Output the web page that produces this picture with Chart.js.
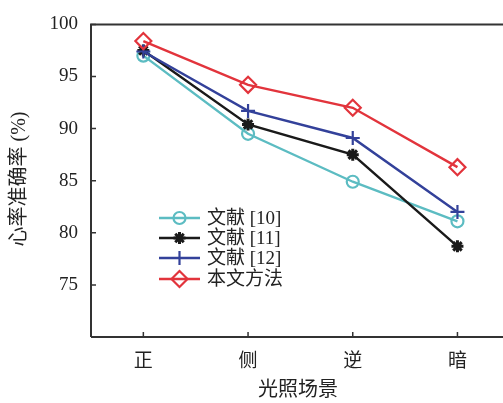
<!DOCTYPE html>
<html><head><meta charset="utf-8">
<script src="https://cdn.jsdelivr.net/npm/chart.js@4/dist/chart.umd.min.js"></script>
<style>html,body{margin:0;padding:0;overflow:hidden;background:#fff}#wrap{width:520px;height:403px}</style>
</head><body><div id="wrap"><canvas id="c" width="520" height="403"></canvas></div>
<script>
const categories = ['正', '侧', '逆', '暗'];
const ref10 = [97.0, 89.5, 84.9, 81.1];
const ref11 = [97.5, 90.4, 87.5, 78.7];
const ref12 = [97.4, 91.7, 89.1, 82.0];
const ours  = [98.4, 94.2, 92.0, 86.3];
const seriesNames = ['文献 [10]', '文献 [11]', '文献 [12]', '本文方法'];
const yTicks = [75, 80, 85, 90, 95, 100];
const xTitle = '光照场景';
const yTitle = '心率准确率 (%)';

const FONT = '"Liberation Serif", "Noto Sans CJK SC", serif';
const colors = ['#5cbcc2', '#1a1a1a', '#33419a', '#e2343c'];
const styles = ['circle', 'star', 'cross', 'rectRot'];
const radii = [6, 6, 7, 8];

const datasets = [ref10, ref11, ref12, ours].map((d, i) => ({
  label: seriesNames[i], data: d, borderColor: colors[i], backgroundColor: i === 1 ? colors[i] : 'rgba(255,255,255,0)',
  pointStyle: styles[i], pointRadius: radii[i], pointBorderWidth: i === 1 ? 3 : 2.2, borderWidth: 2.4,
  pointBorderColor: colors[i], pointBackgroundColor: i === 1 ? colors[i] : 'rgba(255,255,255,0)', tension: 0, order: 3 - i
}));

const framePlugin = {
  id: 'frame',
  afterDraw(chart) {
    const ctx = chart.ctx, a = chart.chartArea;
    const xs = chart.scales.x, ys = chart.scales.y;
    ctx.save();
    ctx.strokeStyle = '#333'; ctx.lineWidth = 2;
    ctx.beginPath();
    ctx.moveTo(a.left, a.bottom); ctx.lineTo(a.left, a.top); ctx.lineTo(a.right, a.top);
    ctx.moveTo(a.left, a.bottom); ctx.lineTo(a.right, a.bottom);
    ctx.stroke();
    ctx.lineWidth = 1.5;
    ctx.beginPath();
    yTicks.forEach(v => { const y = ys.getPixelForValue(v); ctx.moveTo(a.left, y); ctx.lineTo(a.left + 5, y); });
    categories.forEach((c, i) => { const x = xs.getPixelForValue(i); ctx.moveTo(x, a.bottom); ctx.lineTo(x, a.bottom - 5); });
    ctx.stroke();
    // titles
    ctx.fillStyle = '#222';
    ctx.font = '20px ' + FONT;
    ctx.textAlign = 'center'; ctx.textBaseline = 'middle';
    ctx.fillText(xTitle, 298, 391);
    ctx.save(); ctx.translate(20, 179); ctx.rotate(-Math.PI / 2);
    ctx.fillText(yTitle, 0, 0); ctx.restore();
    // legend
    const lx = 159, lw = 41, rows = [218, 238, 258, 279];
    chart.data.datasets.forEach((ds, i) => {
      const y = rows[i];
      ctx.strokeStyle = ds.borderColor; ctx.lineWidth = 2.6;
      ctx.beginPath(); ctx.moveTo(lx, y); ctx.lineTo(lx + lw, y); ctx.stroke();
      ctx.save();
      ctx.fillStyle = ds.pointBackgroundColor; ctx.strokeStyle = ds.borderColor; ctx.lineWidth = ds.pointBorderWidth;
      Chart.helpers.drawPoint(ctx, { pointStyle: ds.pointStyle, radius: ds.pointRadius, borderWidth: ds.pointBorderWidth, rotation: 0 }, lx + lw / 2, y);
      ctx.restore();
      ctx.fillStyle = '#222'; ctx.textAlign = 'left'; ctx.font = '19px ' + FONT;
      ctx.fillText(ds.label, lx + lw + 7, y + 1);
    });
    ctx.restore();
  }
};

new Chart(document.getElementById('c'), {
  type: 'line',
  data: { labels: categories, datasets },
  options: {
    responsive: false, animation: false, devicePixelRatio: 1,
    layout: { padding: { top: 21, right: 2, left: 0, bottom: 0 } },
    plugins: { legend: { display: false }, tooltip: { enabled: false } },
    scales: {
      x: {
        type: 'category', offset: true,
        grid: { display: false, drawTicks: false }, border: { display: false },
        ticks: { color: '#222', font: { family: FONT, size: 19 }, padding: 14 },
        afterFit: s => { s.height = 66; }
      },
      y: {
        min: 70, max: 100,
        grid: { display: false, drawTicks: false }, border: { display: false },
        afterBuildTicks: s => { s.ticks = [70].concat(yTicks).map(v => ({ value: v })); },
        ticks: { color: '#222', font: { family: FONT, size: 19 }, padding: 13, callback: v => (v === 70 ? '' : v) },
        afterFit: s => { s.width = 91; }
      }
    }
  },
  plugins: [framePlugin]
});
</script></body></html>
